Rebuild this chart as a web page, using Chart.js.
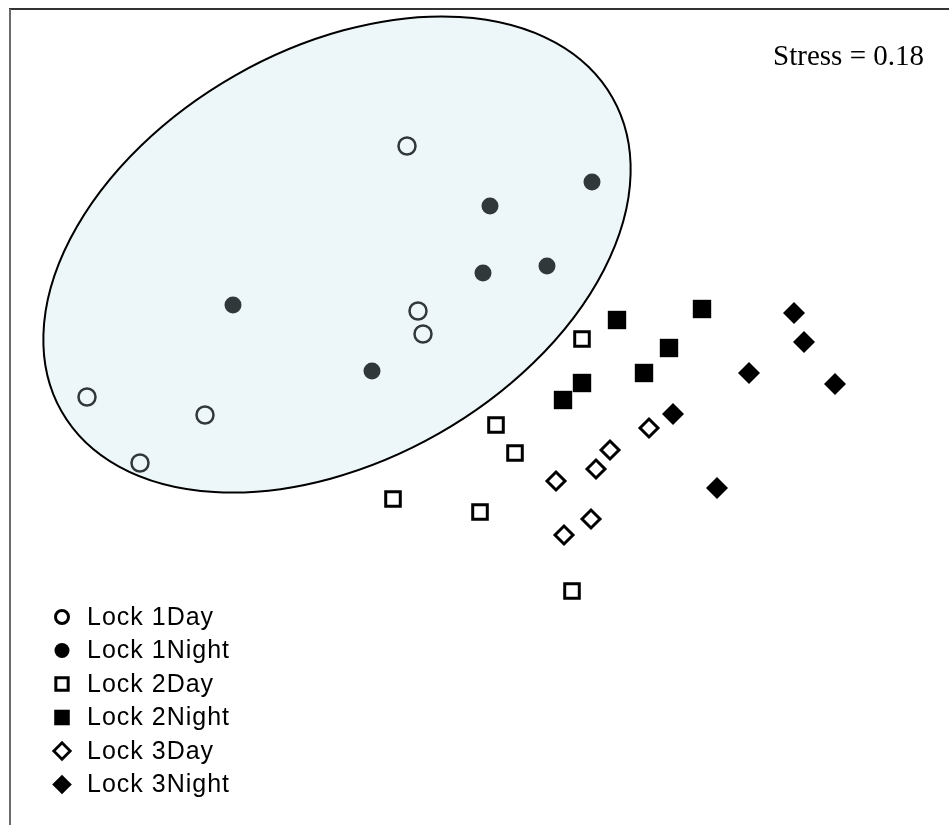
<!DOCTYPE html>
<html>
<head>
<meta charset="utf-8">
<script src="https://cdn.jsdelivr.net/npm/chart.js@4.4.1/dist/chart.umd.min.js"></script>
<style>
  html, body { margin: 0; padding: 0; background: #fff; }
  #wrap { width: 949px; height: 825px; position: relative; }
</style>
</head>
<body>
<div id="wrap"><canvas id="nmds" width="949" height="825"></canvas></div>
<script>
// NMDS ordinasjon, koordinater lest av bildet (akse 1, akse 2)
const groups = ['Lock 1Day', 'Lock 1Night', 'Lock 2Day', 'Lock 2Night', 'Lock 3Day', 'Lock 3Night'];

const lock1Day = [[-0.365, 1.33], [-0.31, 0.505], [-0.285, 0.39], [-1.965, 0.075], [-1.375, -0.015], [-1.70, -0.255]];
const lock1Night = [[-1.235, 0.535], [-0.54, 0.205], [0.56, 1.15], [0.05, 1.03], [0.015, 0.695], [0.335, 0.73]];
const lock2Day = [[0.51, 0.365], [0.08, -0.065], [0.175, -0.205], [-0.435, -0.435], [0.0, -0.5], [0.46, -0.895]];
const lock2Night = [[0.685, 0.46], [1.11, 0.515], [0.945, 0.32], [0.51, 0.145], [0.82, 0.195], [0.415, 0.06]];
const lock3Day = [[0.845, -0.08], [0.65, -0.19], [0.58, -0.285], [0.38, -0.345], [0.555, -0.535], [0.42, -0.615]];
const lock3Night = [[1.57, 0.495], [1.62, 0.35], [1.345, 0.195], [1.775, 0.14], [0.965, -0.01], [1.185, -0.38]];

// Ellipse rundt Lock 1 (senter, halvakser, vinkel i grader)
const ellipseCenter = [-0.715, 0.7875];
const ellipseAxes = [1.585, 1.03];
const ellipseAngle = 29.7;

const stressLabel = 'Stress = 0.18';

const INK = '#000000';
const INK_SOFT = '#30383a';
const ELLIPSE_FILL = '#edf6f8';

const toPoints = arr => arr.map(p => ({ x: p[0], y: p[1] }));

const styles = [
    { data: lock1Day, pointStyle: 'circle', radius: 8.5, borderWidth: 2.5, color: INK_SOFT, filled: false, legend: { radius: 6.5, borderWidth: 3 } },
    { data: lock1Night, pointStyle: 'circle', radius: 8.5, borderWidth: 0, color: INK_SOFT, filled: true, legend: { radius: 7.5, borderWidth: 0 } },
    { data: lock2Day, pointStyle: 'rect', radius: 10.3, borderWidth: 3, color: INK, filled: false, legend: { radius: 8.7, borderWidth: 3 } },
    { data: lock2Night, pointStyle: 'rect', radius: 13, borderWidth: 0, color: INK, filled: true, legend: { radius: 11, borderWidth: 0 } },
    { data: lock3Day, pointStyle: 'rectRot', radius: 9, borderWidth: 3, color: INK, filled: false, legend: { radius: 8.2, borderWidth: 2.8 } },
    { data: lock3Night, pointStyle: 'rectRot', radius: 11, borderWidth: 0, color: INK, filled: true, legend: { radius: 9.8, borderWidth: 0 } }
];

const datasets = styles.map((s, i) => ({
    label: groups[i],
    data: toPoints(s.data),
    pointStyle: s.pointStyle,
    pointRadius: s.radius,
    pointHoverRadius: s.radius,
    pointBorderWidth: s.borderWidth,
    pointBorderColor: s.color,
    pointBackgroundColor: s.filled ? s.color : 'rgba(0,0,0,0)',
    legendStyle: s.legend,
    filled: s.filled,
    showLine: false
}));

// Ellipse og ramme under punktene
const backdrop = {
    id: 'backdrop',
    beforeDatasetsDraw(chart) {
        const { ctx, scales } = chart;
        const cx = scales.x.getPixelForValue(ellipseCenter[0]);
        const cy = scales.y.getPixelForValue(ellipseCenter[1]);
        const rx = Math.abs(scales.x.getPixelForValue(ellipseCenter[0] + ellipseAxes[0]) - cx);
        const ry = Math.abs(scales.y.getPixelForValue(ellipseCenter[1] + ellipseAxes[1]) - cy);
        ctx.save();
        ctx.beginPath();
        ctx.ellipse(cx, cy, rx, ry, -ellipseAngle * Math.PI / 180, 0, Math.PI * 2);
        ctx.fillStyle = ELLIPSE_FILL;
        ctx.fill();
        ctx.lineWidth = 2;
        ctx.strokeStyle = '#000';
        ctx.stroke();
        ctx.restore();
    },
    afterDraw(chart) {
        const { ctx } = chart;
        ctx.save();
        // ramme (kun topp og venstre er synlig)
        ctx.fillStyle = '#333';
        ctx.fillRect(9, 8, 940, 2);
        ctx.fillStyle = '#6a6a6a';
        ctx.fillRect(9, 9, 2, 816);

        // stress-verdi
        ctx.font = '29px "Liberation Serif", "Times New Roman", serif';
        ctx.fillStyle = '#000';
        ctx.textAlign = 'right';
        ctx.textBaseline = 'alphabetic';
        ctx.fillText(stressLabel, 924, 65);

        // egen forklaring nederst til venstre
        ctx.font = '25px "Liberation Sans", Arial, sans-serif';
        ctx.textAlign = 'left';
        ctx.textBaseline = 'middle';
        if ('letterSpacing' in ctx) ctx.letterSpacing = '1px';
        chart.data.datasets.forEach((ds, i) => {
            const y = 617 + i * 33.5;
            const ls = ds.legendStyle;
            ctx.lineWidth = ls.borderWidth;
            ctx.strokeStyle = '#000';
            ctx.fillStyle = ds.filled ? '#000' : '#fff';
            Chart.helpers.drawPoint(ctx, {
                pointStyle: ds.pointStyle,
                radius: ls.radius,
                rotation: 0,
                borderWidth: ls.borderWidth
            }, 62, y);
            ctx.fillStyle = '#000';
            ctx.fillText(ds.label, 87, y + 1);
        });
        ctx.restore();
    }
};

new Chart(document.getElementById('nmds'), {
    type: 'scatter',
    data: { datasets },
    options: {
        responsive: false,
        animation: false,
        layout: { padding: 0, autoPadding: false },
        plugins: {
            legend: { display: false },
            tooltip: { enabled: false }
        },
        scales: {
            x: { type: 'linear', min: -2.4, max: 2.345, display: false },
            y: { type: 'linear', min: -2.065, max: 2.06, display: false }
        }
    },
    plugins: [backdrop]
});
</script>
</body>
</html>
